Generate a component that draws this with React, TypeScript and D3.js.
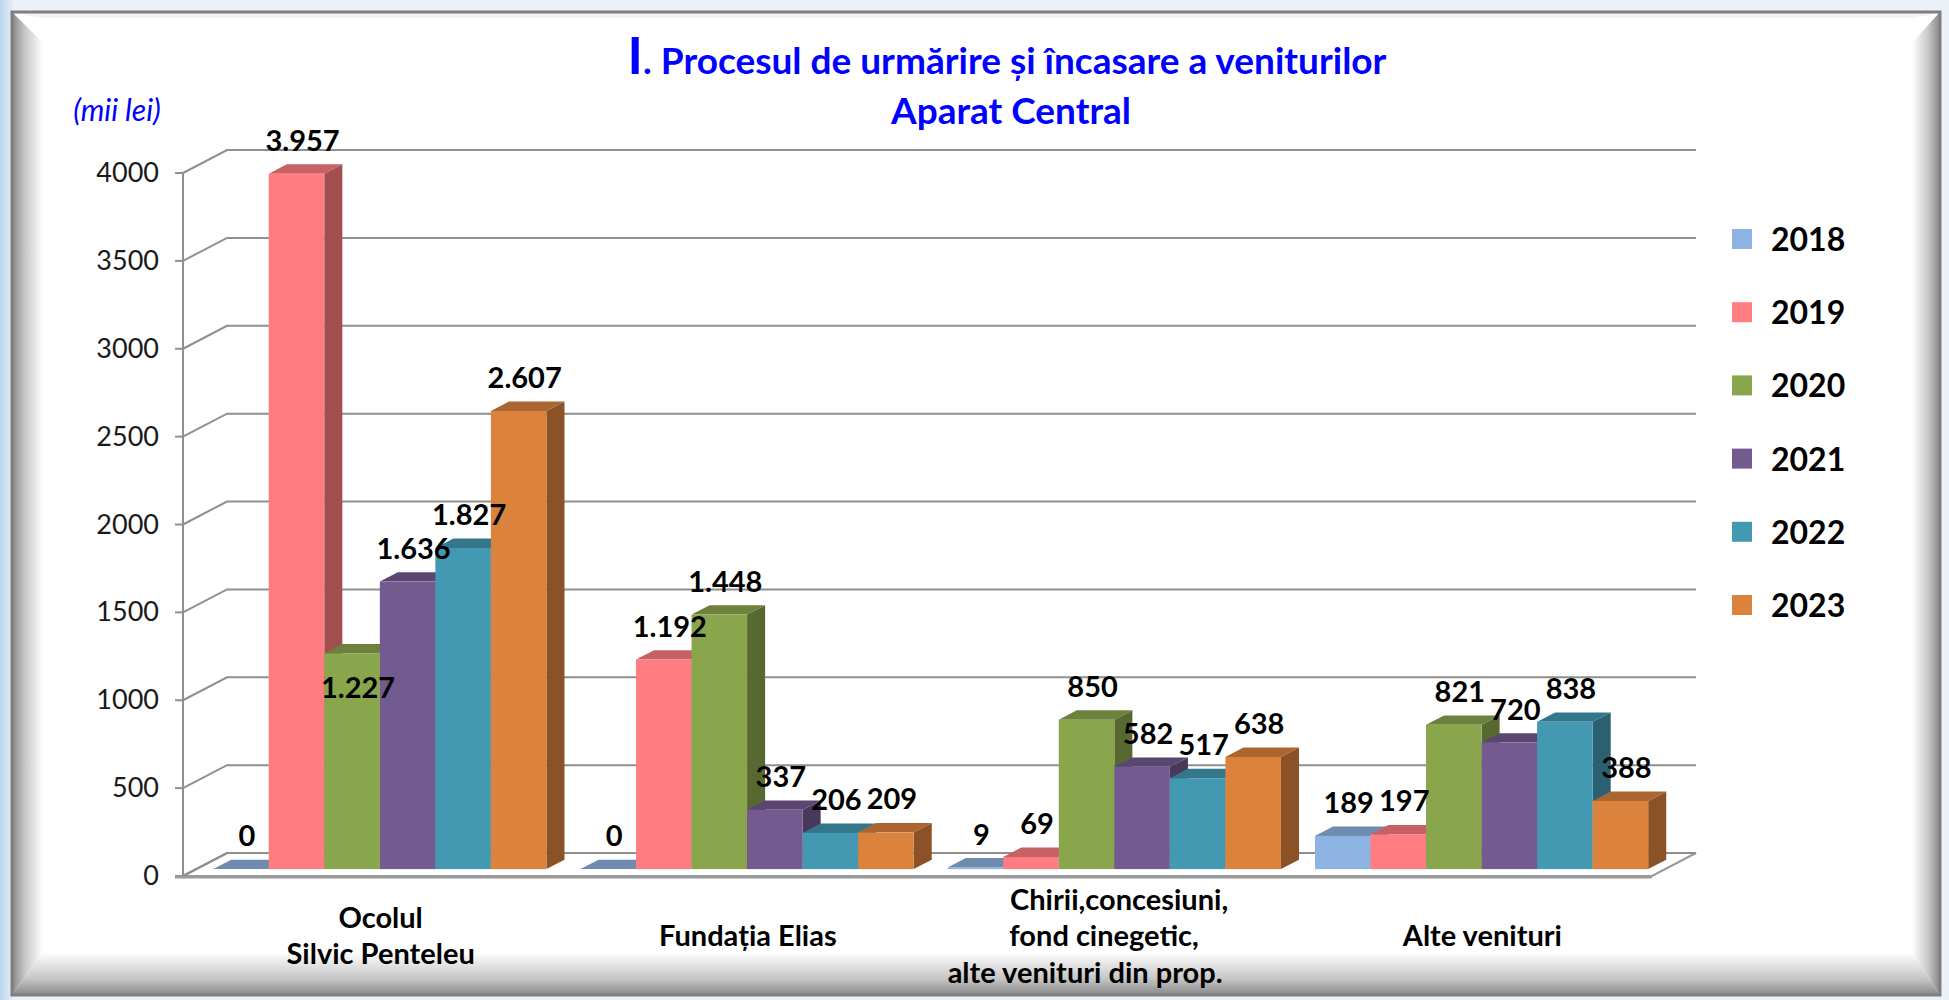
import React from "react";
import * as d3 from "d3";

const categories = ["Ocolul|Silvic Penteleu", "Fundația Elias", "Chirii,concesiuni,|fond cinegetic,|alte venituri din prop.", "Alte venituri"];
const years = ["2018", "2019", "2020", "2021", "2022", "2023"];
const v2018 = [0, 0, 9, 189];
const v2019 = [3957, 1192, 69, 197];
const v2020 = [1227, 1448, 850, 821];
const v2021 = [1636, 337, 582, 720];
const v2022 = [1827, 206, 517, 838];
const v2023 = [2607, 209, 638, 388];
const series = [v2018, v2019, v2020, v2021, v2022, v2023];
const yTicks = [0, 500, 1000, 1500, 2000, 2500, 3000, 3500, 4000];
const colors = ["#8DB3E2", "#FF7C80", "#8AA64C", "#735A8F", "#4399B1", "#DB823D"];

const W = 1949, H = 1000;
const FONT = "Lato, 'Open Sans', sans-serif";
const DX = 44, DY = -23; // depth of plot floor
const T0 = 0.3, T1 = 0.71; // bar depth span
// per-line horizontal shift of category labels (layout tweak)
const catLineShift = [[0, 0], [0], [4, -11, -30], [0]];

const fmt = (v: number) => d3.format(",")(v).replace(/,/g, ".");

export default function App() {
  const y = d3.scaleLinear().domain([0, 4000]).range([876, 173]);
  const x0 = d3.scaleBand<string>().domain(categories).range([183, 1652]);
  const x1 = d3.scaleBand<string>().domain(years).range([17, x0.bandwidth() - 17]);
  const bw = x1.bandwidth();
  const bdx = (T1 - T0) * DX, bdy = (T1 - T0) * DY;
  const darker = (c: string, k: number) => {
    const r = d3.rgb(c);
    return d3.rgb(r.r * k, r.g * k, r.b * k).formatHex();
  };
  const xL = 183, xR = 1652;
  const legendY = d3.scaleLinear().domain([0, 5]).range([239, 605]);

  const bars: React.ReactNode[] = [];
  const labels: React.ReactNode[] = [];
  categories.forEach((cat, ci) => {
    years.forEach((yr, si) => {
      const v = series[si][ci];
      const xl = (x0(cat) as number) + (x1(yr) as number) + T0 * DX;
      const xr = xl + bw;
      const top = y(v) + T0 * DY;
      const base = y(0) + T0 * DY;
      const c = colors[si];
      const topC = darker(c, 0.78), sideC = darker(c, 0.63);
      bars.push(
        <g key={`b${ci}-${si}`}>
          <polygon points={`${xr},${top} ${xr + bdx},${top + bdy} ${xr + bdx},${base + bdy} ${xr},${base}`} fill={sideC} />
          <polygon points={`${xl},${top} ${xr},${top} ${xr + bdx},${top + bdy} ${xl + bdx},${top + bdy}`} fill={topC} />
          {v > 0 && <rect x={xl} y={top} width={bw} height={base - top} fill={c} />}
        </g>
      );
      const inside = ci === 0 && si === 2;
      const lx = xl + bw / 2 + 6;
      const ly = inside ? top + 45 : top - 23;
      labels.push(
        <text key={`l${ci}-${si}`} x={lx} y={ly} textAnchor="middle" fontFamily={FONT} fontWeight={700} fontSize={29} fill="#000">
          {fmt(v)}
        </text>
      );
    });
  });

  return (
    <svg width={W} height={H} viewBox={`0 0 ${W} ${H}`} style={{ display: "block", position: "absolute", left: 0, top: 0 }}>
      <defs>
        <linearGradient id="bgL" x1="0" x2="1" y1="0" y2="0">
          <stop offset="0" stopColor="#BCD4EE" />
          <stop offset="1" stopColor="#EAF1F9" />
        </linearGradient>
        <linearGradient id="bevL" x1="0" x2="1" y1="0" y2="0">
          <stop offset="0" stopColor="#8C8C8C" />
          <stop offset="0.4" stopColor="#C8C8C8" />
          <stop offset="1" stopColor="#FFFFFF" />
        </linearGradient>
        <linearGradient id="bevR" x1="1" x2="0" y1="0" y2="0">
          <stop offset="0" stopColor="#8C8C8C" />
          <stop offset="0.4" stopColor="#C8C8C8" />
          <stop offset="1" stopColor="#FFFFFF" />
        </linearGradient>
        <linearGradient id="bevB" x1="0" x2="0" y1="1" y2="0">
          <stop offset="0" stopColor="#8C8C8C" />
          <stop offset="0.35" stopColor="#C4C4C4" />
          <stop offset="1" stopColor="#FFFFFF" />
        </linearGradient>
      </defs>
      <rect x={0} y={0} width={W} height={H} fill="#EAF1F9" />
      <rect x={0} y={0} width={14} height={H} fill="url(#bgL)" />
      {/* frame */}
      <rect x={12} y={12} width={1928} height={983} fill="#FFFFFF" />
      <polygon points="13,13 43,43 43,952 13,994" fill="url(#bevL)" />
      <polygon points="1939,13 1912,43 1912,952 1939,994" fill="url(#bevR)" />
      <polygon points="13,994 43,952 1912,952 1939,994" fill="url(#bevB)" />
      <polygon points="13,13 1939,13 1912,18 43,18" fill="#F2F2F2" />
      <rect x={12} y={12} width={1928} height={983} fill="none" stroke="#7F7F7F" strokeWidth={3} />

      {/* title */}
      <text x={1007} y={74} textAnchor="middle" fontFamily={FONT} fontWeight={700} fill="#0000FF" fontSize={37}>
        <tspan fontSize={52}>I</tspan>
        <tspan>. Procesul de urmărire și încasare a veniturilor</tspan>
      </text>
      <text x={1011} y={124} textAnchor="middle" fontFamily={FONT} fontWeight={700} fill="#0000FF" fontSize={37}>
        Aparat Central
      </text>
      <text x={117} y={121} textAnchor="middle" fontFamily={FONT} fontStyle="italic" fill="#0000FF" fontSize={30}>
        (mii lei)
      </text>

      {/* floor */}
      <polygon points={`${xL},${y(0)} ${xR},${y(0)} ${xR + DX},${y(0) + DY} ${xL + DX},${y(0) + DY}`} fill="#FFFFFF" stroke="#9A9A9A" strokeWidth={2} />

      {/* gridlines */}
      {yTicks.map((t) => (
        <g key={`g${t}`}>
          <polyline points={`${xL},${y(t)} ${xL + DX},${y(t) + DY} ${xR + DX},${y(t) + DY}`} fill="none" stroke="#8F8F8F" strokeWidth={2} />
          <line x1={xL - 8} x2={xL} y1={y(t)} y2={y(t)} stroke="#8F8F8F" strokeWidth={2} />
          <text x={159} y={y(t) + 9} textAnchor="end" fontFamily={FONT} fontSize={27} fill="#1A1A1A">
            {t}
          </text>
        </g>
      ))}
      <line x1={xL} x2={xL} y1={y(4000)} y2={y(0)} stroke="#8F8F8F" strokeWidth={2} />
      <line x1={xL - 8} x2={xR} y1={y(0) + 1} y2={y(0) + 1} stroke="#9A9A9A" strokeWidth={3} />

      {bars}
      {labels}

      {/* category labels */}
      {categories.map((cat, ci) => {
        const lines = cat.split("|");
        const cx = (x0(cat) as number) + x0.bandwidth() / 2 + 14;
        const lh = 36.5;
        const y0 = 946 - ((lines.length - 1) * lh) / 2;
        return (
          <text key={cat} x={cx} textAnchor="middle" fontFamily={FONT} fontWeight={700} fontSize={29} fill="#000">
            {lines.map((ln, i) => (
              <tspan key={i} x={cx + catLineShift[ci][i]} y={y0 + i * lh}>
                {ln}
              </tspan>
            ))}
          </text>
        );
      })}

      {/* legend */}
      {years.map((yr, i) => (
        <g key={yr}>
          <rect x={1732} y={legendY(i) - 10} width={20} height={20} fill={colors[i]} />
          <text x={1771} y={legendY(i) + 12} fontFamily={FONT} fontWeight={700} fontSize={32} fill="#000">
            {yr}
          </text>
        </g>
      ))}
    </svg>
  );
}
